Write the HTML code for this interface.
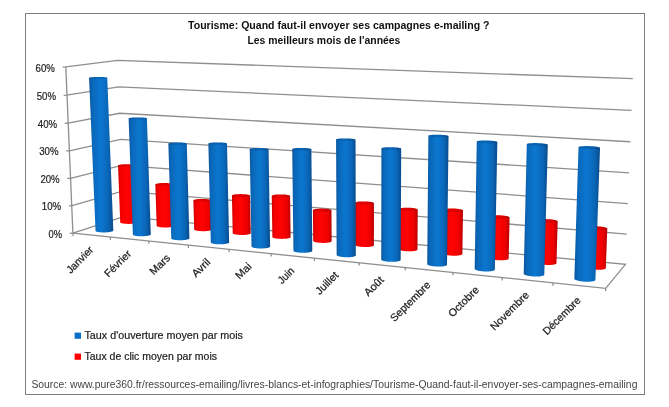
<!DOCTYPE html>
<html><head><meta charset="utf-8"><title>chart</title>
<style>
html,body{margin:0;padding:0;background:#fff;}
body{width:669px;height:407px;overflow:hidden;font-family:"Liberation Sans",sans-serif;}
svg{display:block;will-change:transform;opacity:0.999;}
text{font-family:"Liberation Sans",sans-serif;}
</style></head><body>
<svg width="669" height="407" viewBox="0 0 669 407">
<defs>
<linearGradient id="gb" x1="0" x2="1" y1="0" y2="0">
<stop offset="0" stop-color="#09569f"/><stop offset="0.14" stop-color="#0a68b9"/><stop offset="0.48" stop-color="#0b77d0"/><stop offset="0.78" stop-color="#0a67b8"/><stop offset="1" stop-color="#084a8c"/>
</linearGradient>
<linearGradient id="gr" x1="0" x2="1" y1="0" y2="0">
<stop offset="0" stop-color="#cc0000"/><stop offset="0.15" stop-color="#f50000"/><stop offset="0.45" stop-color="#ff0303"/><stop offset="0.8" stop-color="#ee0000"/><stop offset="1" stop-color="#b40000"/>
</linearGradient>
</defs>
<rect x="0" y="0" width="669" height="407" fill="#ffffff"/>
<rect x="25.5" y="13.5" width="619" height="381" fill="#ffffff" stroke="#7f7f7f" stroke-width="1"/>

<polyline points="62.60,67.05 65.80,66.90 117.62,60.33 632.82,78.71" fill="none" stroke="#8e8e8e" stroke-width="1.3"/>
<polyline points="63.70,95.35 66.90,95.20 118.63,86.89 631.56,110.38" fill="none" stroke="#8e8e8e" stroke-width="1.3"/>
<polyline points="64.80,123.25 68.00,123.10 119.63,113.24 630.32,141.75" fill="none" stroke="#8e8e8e" stroke-width="1.3"/>
<polyline points="66.20,150.95 69.40,150.80 120.62,139.39 629.09,172.83" fill="none" stroke="#8e8e8e" stroke-width="1.3"/>
<polyline points="67.40,178.45 70.60,178.30 121.60,165.33 627.87,203.61" fill="none" stroke="#8e8e8e" stroke-width="1.3"/>
<polyline points="68.80,205.85 72.00,205.70 122.58,191.06 626.67,234.11" fill="none" stroke="#8e8e8e" stroke-width="1.3"/>
<polyline points="69.70,233.35 72.90,233.20" fill="none" stroke="#8e8e8e" stroke-width="1.3"/>
<polygon points="72.90,233.20 123.55,216.59 625.47,264.32 605.66,288.29" fill="#ffffff" stroke="#8e8e8e" stroke-width="1.3"/>
<line x1="65.80" y1="66.90" x2="72.90" y2="233.20" stroke="#8e8e8e" stroke-width="1.3"/>
<line x1="73.10" y1="233.22" x2="73.10" y2="236.02" stroke="#8e8e8e" stroke-width="1.3"/>
<line x1="110.41" y1="237.08" x2="110.41" y2="239.88" stroke="#8e8e8e" stroke-width="1.3"/>
<line x1="148.82" y1="241.05" x2="148.82" y2="243.85" stroke="#8e8e8e" stroke-width="1.3"/>
<line x1="188.37" y1="245.14" x2="188.37" y2="247.94" stroke="#8e8e8e" stroke-width="1.3"/>
<line x1="229.12" y1="249.35" x2="229.12" y2="252.15" stroke="#8e8e8e" stroke-width="1.3"/>
<line x1="271.13" y1="253.70" x2="271.13" y2="256.50" stroke="#8e8e8e" stroke-width="1.3"/>
<line x1="314.44" y1="258.18" x2="314.44" y2="260.98" stroke="#8e8e8e" stroke-width="1.3"/>
<line x1="359.13" y1="262.80" x2="359.13" y2="265.60" stroke="#8e8e8e" stroke-width="1.3"/>
<line x1="405.26" y1="267.57" x2="405.26" y2="270.37" stroke="#8e8e8e" stroke-width="1.3"/>
<line x1="452.90" y1="272.49" x2="452.90" y2="275.29" stroke="#8e8e8e" stroke-width="1.3"/>
<line x1="502.12" y1="277.58" x2="502.12" y2="280.38" stroke="#8e8e8e" stroke-width="1.3"/>
<line x1="553.01" y1="282.85" x2="553.01" y2="285.65" stroke="#8e8e8e" stroke-width="1.3"/>
<line x1="605.66" y1="288.29" x2="605.66" y2="291.09" stroke="#8e8e8e" stroke-width="1.3"/>
<polygon points="118.04,165.54 118.07,165.43 118.17,165.32 118.34,165.21 118.57,165.10 118.86,165.00 119.22,164.90 119.63,164.80 120.10,164.71 120.62,164.62 121.18,164.54 121.79,164.47 122.44,164.40 123.11,164.35 123.82,164.30 124.55,164.26 125.30,164.23 126.06,164.21 126.83,164.20 127.59,164.20 128.35,164.21 129.10,164.23 129.84,164.25 130.55,164.29 131.23,164.34 131.88,164.39 132.50,164.45 133.07,164.52 133.59,164.60 134.07,164.69 134.49,164.78 134.85,164.87 135.16,164.97 135.40,165.08 135.57,165.18 135.69,165.29 135.73,165.41 137.76,222.15 137.74,222.29 137.65,222.44 137.50,222.58 137.28,222.72 136.99,222.85 136.65,222.99 136.25,223.11 135.79,223.23 135.28,223.34 134.72,223.45 134.11,223.54 133.47,223.63 132.79,223.70 132.09,223.76 131.35,223.81 130.60,223.85 129.84,223.88 129.07,223.89 128.30,223.90 127.54,223.89 126.79,223.86 126.05,223.83 125.34,223.78 124.65,223.72 124.00,223.65 123.39,223.57 122.82,223.47 122.30,223.37 121.83,223.26 121.41,223.15 121.06,223.02 120.76,222.89 120.53,222.76 120.36,222.62 120.26,222.48 120.23,222.34" fill="url(#gr)"/>
<polygon points="134.60,166.06 134.95,165.95 135.24,165.85 135.46,165.74 135.62,165.63 135.71,165.52 135.73,165.41 135.69,165.29 135.57,165.18 135.40,165.08 135.16,164.97 134.85,164.87 134.49,164.78 134.07,164.69 133.59,164.60 133.07,164.52 132.50,164.45 131.88,164.39 131.23,164.34 130.55,164.29 129.84,164.25 129.10,164.23 128.35,164.21 127.59,164.20 126.83,164.20 126.06,164.21 125.30,164.23 124.55,164.26 123.82,164.30 123.11,164.35 122.44,164.40 121.79,164.47 121.18,164.54 120.62,164.62 120.10,164.71 119.63,164.80 119.22,164.90 118.86,165.00 118.57,165.10 118.34,165.21 118.17,165.32 118.07,165.43 118.04,165.54 118.07,165.66 118.18,165.77 118.34,165.87 118.58,165.98 118.87,166.08 119.23,166.18 119.65,166.27 120.12,166.36 120.65,166.43 121.22,166.51 121.84,166.57 122.50,166.63 123.19,166.67 123.90,166.71 124.65,166.74 125.41,166.76 126.18,166.77 126.95,166.76 127.73,166.75 128.50,166.73 129.25,166.70 129.99,166.66 130.71,166.61 131.39,166.56 132.04,166.49 132.65,166.42 133.22,166.34 133.73,166.25 134.20,166.16" fill="rgba(90,0,0,0.16)"/>
<polygon points="155.33,184.49 155.34,184.37 155.42,184.25 155.57,184.12 155.78,184.00 156.06,183.89 156.40,183.77 156.80,183.67 157.25,183.57 157.76,183.47 158.31,183.38 158.91,183.30 159.55,183.23 160.23,183.17 160.93,183.11 161.66,183.07 162.41,183.04 163.17,183.01 163.94,183.00 164.71,183.00 165.48,183.01 166.24,183.03 166.98,183.06 167.70,183.10 168.40,183.15 169.06,183.21 169.69,183.28 170.28,183.36 170.82,183.44 171.32,183.54 171.76,183.64 172.14,183.74 172.47,183.85 172.73,183.97 172.92,184.09 173.06,184.21 173.12,184.33 174.37,225.69 174.36,225.84 174.30,225.98 174.16,226.13 173.96,226.27 173.69,226.41 173.36,226.55 172.97,226.68 172.52,226.80 172.02,226.92 171.47,227.02 170.87,227.12 170.24,227.21 169.56,227.28 168.86,227.35 168.12,227.40 167.37,227.44 166.61,227.47 165.83,227.48 165.06,227.49 164.28,227.48 163.52,227.45 162.77,227.42 162.05,227.37 161.35,227.31 160.68,227.23 160.05,227.15 159.46,227.06 158.92,226.95 158.43,226.84 158.00,226.72 157.62,226.59 157.31,226.46 157.05,226.32 156.87,226.18 156.74,226.03 156.69,225.89" fill="url(#gr)"/>
<polygon points="172.10,185.06 172.43,184.94 172.70,184.82 172.91,184.70 173.05,184.58 173.12,184.46 173.12,184.33 173.06,184.21 172.92,184.09 172.73,183.97 172.47,183.85 172.14,183.74 171.76,183.64 171.32,183.54 170.82,183.44 170.28,183.36 169.69,183.28 169.06,183.21 168.40,183.15 167.70,183.10 166.98,183.06 166.24,183.03 165.48,183.01 164.71,183.00 163.94,183.00 163.17,183.01 162.41,183.04 161.66,183.07 160.93,183.11 160.23,183.17 159.55,183.23 158.91,183.30 158.31,183.38 157.76,183.47 157.25,183.57 156.80,183.67 156.40,183.77 156.06,183.89 155.78,184.00 155.57,184.12 155.42,184.25 155.34,184.37 155.33,184.49 155.38,184.62 155.50,184.74 155.69,184.86 155.95,184.98 156.26,185.09 156.64,185.20 157.08,185.30 157.57,185.39 158.11,185.48 158.70,185.56 159.34,185.63 160.01,185.69 160.71,185.74 161.44,185.78 162.19,185.82 162.96,185.84 163.74,185.84 164.52,185.84 165.30,185.83 166.07,185.81 166.83,185.77 167.57,185.73 168.28,185.67 168.96,185.61 169.60,185.54 170.20,185.45 170.75,185.36 171.26,185.27 171.71,185.16" fill="rgba(90,0,0,0.16)"/>
<polygon points="193.39,200.39 193.45,200.26 193.58,200.13 193.77,199.99 194.03,199.87 194.36,199.75 194.74,199.63 195.18,199.52 195.67,199.41 196.22,199.32 196.81,199.23 197.44,199.15 198.11,199.08 198.81,199.03 199.54,198.98 200.29,198.94 201.05,198.92 201.82,198.90 202.60,198.90 203.37,198.91 204.14,198.93 204.90,198.96 205.63,199.01 206.34,199.06 207.02,199.13 207.67,199.20 208.27,199.28 208.84,199.38 209.35,199.48 209.81,199.59 210.21,199.70 210.56,199.82 210.84,199.95 211.06,200.08 211.21,200.21 211.30,200.34 211.31,200.48 212.02,229.48 211.97,229.63 211.85,229.78 211.67,229.93 211.42,230.07 211.10,230.21 210.73,230.34 210.29,230.47 209.80,230.59 209.26,230.70 208.67,230.80 208.04,230.89 207.37,230.97 206.67,231.03 205.94,231.09 205.18,231.13 204.41,231.16 203.63,231.18 202.85,231.18 202.07,231.17 201.29,231.14 200.53,231.11 199.79,231.06 199.08,230.99 198.40,230.92 197.75,230.83 197.14,230.74 196.58,230.63 196.07,230.52 195.62,230.39 195.22,230.26 194.88,230.13 194.61,229.98 194.40,229.84 194.26,229.69 194.18,229.54 194.17,229.39" fill="url(#gr)"/>
<polygon points="210.39,201.13 210.71,201.01 210.96,200.88 211.14,200.75 211.26,200.61 211.31,200.48 211.30,200.34 211.21,200.21 211.06,200.08 210.84,199.95 210.56,199.82 210.21,199.70 209.81,199.59 209.35,199.48 208.84,199.38 208.27,199.28 207.67,199.20 207.02,199.13 206.34,199.06 205.63,199.01 204.90,198.96 204.14,198.93 203.37,198.91 202.60,198.90 201.82,198.90 201.05,198.92 200.29,198.94 199.54,198.98 198.81,199.03 198.11,199.08 197.44,199.15 196.81,199.23 196.22,199.32 195.67,199.41 195.18,199.52 194.74,199.63 194.36,199.75 194.03,199.87 193.77,199.99 193.58,200.13 193.45,200.26 193.39,200.39 193.39,200.53 193.47,200.66 193.61,200.79 193.82,200.93 194.10,201.05 194.44,201.17 194.84,201.29 195.29,201.40 195.80,201.50 196.37,201.60 196.97,201.68 197.62,201.76 198.31,201.83 199.03,201.88 199.77,201.93 200.53,201.96 201.31,201.98 202.10,201.99 202.88,201.99 203.67,201.98 204.44,201.95 205.20,201.91 205.93,201.86 206.64,201.80 207.31,201.73 207.95,201.65 208.54,201.56 209.08,201.47 209.58,201.36 210.01,201.25" fill="rgba(90,0,0,0.16)"/>
<polygon points="231.92,195.59 231.96,195.45 232.07,195.32 232.25,195.19 232.49,195.06 232.80,194.94 233.17,194.83 233.59,194.72 234.08,194.61 234.61,194.52 235.20,194.43 235.82,194.35 236.49,194.28 237.19,194.23 237.92,194.18 238.67,194.14 239.43,194.12 240.21,194.10 241.00,194.10 241.78,194.11 242.56,194.13 243.33,194.16 244.08,194.20 244.81,194.26 245.51,194.32 246.17,194.40 246.80,194.48 247.38,194.57 247.91,194.67 248.40,194.78 248.82,194.89 249.19,195.01 249.50,195.14 249.74,195.27 249.91,195.40 250.02,195.53 250.06,195.67 250.75,233.23 250.72,233.38 250.62,233.54 250.46,233.69 250.23,233.84 249.93,233.98 249.57,234.12 249.15,234.25 248.67,234.37 248.14,234.48 247.56,234.58 246.93,234.68 246.26,234.76 245.56,234.83 244.83,234.88 244.08,234.93 243.30,234.96 242.52,234.97 241.73,234.98 240.94,234.97 240.15,234.94 239.38,234.90 238.62,234.85 237.89,234.79 237.19,234.71 236.53,234.62 235.90,234.53 235.32,234.42 234.79,234.30 234.32,234.17 233.90,234.04 233.54,233.90 233.24,233.75 233.01,233.60 232.84,233.45 232.75,233.29 232.72,233.14" fill="url(#gr)"/>
<polygon points="249.23,196.31 249.53,196.19 249.76,196.06 249.93,195.93 250.03,195.80 250.06,195.67 250.02,195.53 249.91,195.40 249.74,195.27 249.50,195.14 249.19,195.01 248.82,194.89 248.40,194.78 247.91,194.67 247.38,194.57 246.80,194.48 246.17,194.40 245.51,194.32 244.81,194.26 244.08,194.20 243.33,194.16 242.56,194.13 241.78,194.11 241.00,194.10 240.21,194.10 239.43,194.12 238.67,194.14 237.92,194.18 237.19,194.23 236.49,194.28 235.82,194.35 235.20,194.43 234.61,194.52 234.08,194.61 233.59,194.72 233.17,194.83 232.80,194.94 232.49,195.06 232.25,195.19 232.07,195.32 231.96,195.45 231.92,195.59 231.95,195.72 232.05,195.85 232.21,195.99 232.44,196.11 232.74,196.24 233.10,196.36 233.53,196.48 234.01,196.59 234.54,196.69 235.12,196.78 235.75,196.87 236.42,196.94 237.12,197.01 237.86,197.06 238.62,197.11 239.39,197.14 240.18,197.16 240.98,197.17 241.78,197.17 242.57,197.16 243.34,197.13 244.10,197.09 244.84,197.04 245.54,196.98 246.21,196.91 246.84,196.83 247.43,196.74 247.96,196.65 248.44,196.54 248.87,196.43" fill="rgba(90,0,0,0.16)"/>
<polygon points="271.76,195.91 271.78,195.78 271.86,195.64 272.02,195.51 272.25,195.38 272.54,195.26 272.89,195.14 273.30,195.03 273.77,194.92 274.30,194.83 274.87,194.74 275.49,194.66 276.16,194.59 276.85,194.53 277.58,194.48 278.33,194.44 279.10,194.42 279.89,194.40 280.68,194.40 281.47,194.41 282.27,194.43 283.05,194.46 283.81,194.51 284.55,194.56 285.27,194.62 285.96,194.70 286.60,194.78 287.21,194.88 287.76,194.98 288.27,195.09 288.72,195.20 289.11,195.33 289.44,195.45 289.71,195.58 289.91,195.71 290.04,195.85 290.10,195.99 290.60,237.08 290.60,237.24 290.52,237.40 290.37,237.56 290.16,237.71 289.88,237.85 289.53,238.00 289.13,238.13 288.66,238.26 288.14,238.37 287.57,238.48 286.95,238.57 286.29,238.66 285.59,238.73 284.86,238.79 284.11,238.83 283.33,238.86 282.54,238.88 281.74,238.89 280.94,238.87 280.14,238.85 279.36,238.81 278.59,238.76 277.84,238.69 277.12,238.62 276.44,238.53 275.79,238.42 275.19,238.31 274.64,238.19 274.14,238.06 273.70,237.92 273.31,237.78 272.99,237.63 272.74,237.48 272.55,237.32 272.43,237.16 272.38,237.00" fill="url(#gr)"/>
<polygon points="289.37,196.64 289.65,196.52 289.87,196.39 290.01,196.26 290.09,196.12 290.10,195.99 290.04,195.85 289.91,195.71 289.71,195.58 289.44,195.45 289.11,195.33 288.72,195.20 288.27,195.09 287.76,194.98 287.21,194.88 286.60,194.78 285.96,194.70 285.27,194.62 284.55,194.56 283.81,194.51 283.05,194.46 282.27,194.43 281.47,194.41 280.68,194.40 279.89,194.40 279.10,194.42 278.33,194.44 277.58,194.48 276.85,194.53 276.16,194.59 275.49,194.66 274.87,194.74 274.30,194.83 273.77,194.92 273.30,195.03 272.89,195.14 272.54,195.26 272.25,195.38 272.02,195.51 271.86,195.64 271.78,195.78 271.76,195.91 271.81,196.05 271.93,196.18 272.12,196.32 272.37,196.45 272.70,196.58 273.08,196.70 273.53,196.82 274.03,196.93 274.59,197.03 275.19,197.13 275.84,197.21 276.53,197.29 277.25,197.36 278.00,197.41 278.78,197.46 279.57,197.49 280.37,197.51 281.18,197.52 281.98,197.52 282.78,197.50 283.56,197.48 284.32,197.44 285.05,197.39 285.76,197.33 286.42,197.26 287.04,197.17 287.62,197.08 288.14,196.98 288.61,196.88 289.02,196.76" fill="rgba(90,0,0,0.16)"/>
<polygon points="312.93,210.09 312.99,209.94 313.13,209.80 313.33,209.66 313.60,209.53 313.94,209.40 314.34,209.28 314.80,209.17 315.31,209.06 315.87,208.97 316.48,208.88 317.14,208.80 317.83,208.74 318.56,208.69 319.31,208.65 320.08,208.62 320.87,208.60 321.67,208.60 322.47,208.61 323.27,208.63 324.07,208.67 324.84,208.71 325.60,208.77 326.34,208.84 327.04,208.92 327.71,209.01 328.33,209.11 328.91,209.22 329.44,209.34 329.91,209.46 330.33,209.59 330.68,209.73 330.98,209.87 331.20,210.01 331.36,210.16 331.44,210.30 331.46,210.45 331.64,241.21 331.59,241.38 331.46,241.54 331.27,241.69 331.01,241.85 330.68,241.99 330.29,242.13 329.84,242.26 329.33,242.38 328.77,242.49 328.16,242.59 327.50,242.67 326.80,242.75 326.08,242.81 325.32,242.85 324.54,242.89 323.74,242.91 322.94,242.91 322.13,242.90 321.32,242.87 320.52,242.83 319.73,242.78 318.97,242.71 318.23,242.63 317.53,242.54 316.86,242.44 316.24,242.32 315.66,242.20 315.14,242.07 314.67,241.92 314.26,241.78 313.92,241.62 313.64,241.46 313.42,241.30 313.28,241.14 313.20,240.97 313.20,240.81" fill="url(#gr)"/>
<polygon points="330.82,211.01 331.08,210.88 331.28,210.74 331.40,210.59 331.46,210.45 331.44,210.30 331.36,210.16 331.20,210.01 330.98,209.87 330.68,209.73 330.33,209.59 329.91,209.46 329.44,209.34 328.91,209.22 328.33,209.11 327.71,209.01 327.04,208.92 326.34,208.84 325.60,208.77 324.84,208.71 324.07,208.67 323.27,208.63 322.47,208.61 321.67,208.60 320.87,208.60 320.08,208.62 319.31,208.65 318.56,208.69 317.83,208.74 317.14,208.80 316.48,208.88 315.87,208.97 315.31,209.06 314.80,209.17 314.34,209.28 313.94,209.40 313.60,209.53 313.33,209.66 313.13,209.80 312.99,209.94 312.93,210.09 312.93,210.23 313.01,210.38 313.15,210.52 313.37,210.67 313.65,210.81 314.00,210.95 314.41,211.08 314.88,211.20 315.40,211.32 315.98,211.43 316.61,211.54 317.28,211.63 317.99,211.71 318.73,211.78 319.49,211.84 320.28,211.89 321.08,211.93 321.90,211.95 322.71,211.96 323.52,211.95 324.32,211.94 325.10,211.91 325.87,211.87 326.60,211.81 327.30,211.75 327.95,211.67 328.57,211.58 329.13,211.49 329.64,211.38 330.10,211.26 330.49,211.14" fill="rgba(90,0,0,0.16)"/>
<polygon points="355.12,202.87 355.16,202.72 355.28,202.58 355.46,202.45 355.71,202.32 356.03,202.19 356.41,202.07 356.86,201.96 357.36,201.86 357.91,201.76 358.52,201.68 359.17,201.60 359.86,201.54 360.58,201.49 361.33,201.45 362.11,201.42 362.91,201.40 363.72,201.40 364.53,201.41 365.34,201.43 366.15,201.46 366.95,201.51 367.73,201.57 368.48,201.63 369.20,201.71 369.89,201.80 370.54,201.90 371.15,202.01 371.70,202.12 372.20,202.25 372.65,202.37 373.03,202.51 373.35,202.65 373.60,202.79 373.78,202.93 373.89,203.07 373.93,203.22 373.91,245.31 373.88,245.47 373.78,245.64 373.60,245.80 373.36,245.96 373.05,246.11 372.68,246.25 372.24,246.38 371.75,246.50 371.20,246.62 370.59,246.72 369.94,246.81 369.25,246.89 368.53,246.95 367.77,247.00 366.99,247.03 366.18,247.05 365.37,247.05 364.55,247.04 363.73,247.02 362.92,246.98 362.12,246.92 361.33,246.86 360.58,246.77 359.85,246.68 359.16,246.57 358.51,246.45 357.91,246.33 357.37,246.19 356.87,246.04 356.44,245.89 356.07,245.73 355.76,245.57 355.52,245.40 355.35,245.24 355.25,245.07 355.22,244.90" fill="url(#gr)"/>
<polygon points="373.38,203.77 373.63,203.64 373.80,203.50 373.90,203.36 373.93,203.22 373.89,203.07 373.78,202.93 373.60,202.79 373.35,202.65 373.03,202.51 372.65,202.37 372.20,202.25 371.70,202.12 371.15,202.01 370.54,201.90 369.89,201.80 369.20,201.71 368.48,201.63 367.73,201.57 366.95,201.51 366.15,201.46 365.34,201.43 364.53,201.41 363.72,201.40 362.91,201.40 362.11,201.42 361.33,201.45 360.58,201.49 359.86,201.54 359.17,201.60 358.52,201.68 357.91,201.76 357.36,201.86 356.86,201.96 356.41,202.07 356.03,202.19 355.71,202.32 355.46,202.45 355.28,202.58 355.16,202.72 355.12,202.87 355.15,203.01 355.25,203.15 355.42,203.30 355.66,203.44 355.97,203.58 356.35,203.71 356.79,203.84 357.28,203.97 357.83,204.09 358.44,204.19 359.09,204.29 359.78,204.39 360.51,204.47 361.28,204.54 362.06,204.60 362.87,204.64 363.69,204.68 364.51,204.70 365.34,204.71 366.16,204.70 366.96,204.69 367.75,204.66 368.52,204.62 369.25,204.56 369.94,204.50 370.60,204.42 371.20,204.34 371.76,204.24 372.26,204.13 372.70,204.02 373.07,203.90" fill="rgba(90,0,0,0.16)"/>
<polygon points="398.51,249.11 398.69,209.23 398.71,209.08 398.79,208.94 398.96,208.79 399.19,208.66 399.48,208.53 399.85,208.40 400.28,208.29 400.76,208.18 401.31,208.08 401.90,207.99 402.54,207.91 403.23,207.85 403.95,207.79 404.71,207.75 405.49,207.72 406.29,207.70 407.10,207.70 407.93,207.71 408.75,207.73 409.57,207.77 410.39,207.81 411.18,207.87 411.95,207.94 412.70,208.02 413.41,208.12 414.09,208.22 414.72,208.33 415.30,208.45 415.83,208.58 416.30,208.71 416.71,208.85 417.05,208.99 417.33,209.14 417.54,209.29 417.68,209.44 417.75,209.59 417.46,249.52 417.45,249.69 417.37,249.86 417.22,250.03 417.00,250.19 416.72,250.34 416.36,250.49 415.94,250.63 415.46,250.76 414.92,250.87 414.32,250.98 413.68,251.07 412.99,251.15 412.27,251.22 411.51,251.27 410.72,251.30 409.92,251.32 409.10,251.33 408.27,251.32 407.43,251.29 406.61,251.25 405.79,251.19 404.99,251.12 404.21,251.04 403.46,250.94 402.75,250.83 402.08,250.71 401.45,250.58 400.88,250.44 400.36,250.29 399.89,250.13 399.49,249.97 399.16,249.80 398.89,249.63 398.69,249.46 398.57,249.28" fill="url(#gr)"/>
<polygon points="417.29,210.17 417.52,210.03 417.67,209.88 417.74,209.74 417.75,209.59 417.68,209.44 417.54,209.29 417.33,209.14 417.05,208.99 416.71,208.85 416.30,208.71 415.83,208.58 415.30,208.45 414.72,208.33 414.09,208.22 413.41,208.12 412.70,208.02 411.95,207.94 411.18,207.87 410.39,207.81 409.57,207.77 408.75,207.73 407.93,207.71 407.10,207.70 406.29,207.70 405.49,207.72 404.71,207.75 403.95,207.79 403.23,207.85 402.54,207.91 401.90,207.99 401.31,208.08 400.76,208.18 400.28,208.29 399.85,208.40 399.48,208.53 399.19,208.66 398.96,208.79 398.79,208.94 398.71,209.08 398.69,209.23 398.74,209.38 398.87,209.53 399.07,209.68 399.34,209.83 399.68,209.97 400.08,210.11 400.54,210.25 401.07,210.38 401.65,210.50 402.28,210.61 402.95,210.72 403.67,210.81 404.42,210.90 405.20,210.97 406.01,211.03 406.83,211.08 407.67,211.11 408.50,211.14 409.34,211.14 410.17,211.14 410.98,211.12 411.77,211.09 412.53,211.05 413.26,210.99 413.95,210.93 414.60,210.85 415.19,210.76 415.74,210.66 416.22,210.54 416.65,210.43 417.00,210.30" fill="rgba(90,0,0,0.16)"/>
<polygon points="443.13,253.27 443.62,209.91 443.68,209.76 443.82,209.62 444.03,209.48 444.31,209.35 444.65,209.22 445.06,209.10 445.54,208.99 446.07,208.89 446.65,208.80 447.29,208.72 447.97,208.65 448.69,208.60 449.44,208.55 450.23,208.52 451.03,208.50 451.85,208.50 452.69,208.51 453.53,208.53 454.36,208.57 455.19,208.61 456.01,208.67 456.80,208.74 457.57,208.83 458.31,208.92 459.01,209.03 459.67,209.14 460.28,209.26 460.83,209.39 461.33,209.53 461.77,209.67 462.15,209.81 462.46,209.96 462.70,210.11 462.87,210.27 462.96,210.42 462.99,210.57 462.36,254.04 462.31,254.22 462.19,254.39 461.99,254.56 461.72,254.71 461.39,254.87 460.98,255.01 460.51,255.14 459.99,255.26 459.40,255.37 458.77,255.47 458.09,255.55 457.37,255.61 456.61,255.67 455.82,255.70 455.01,255.72 454.18,255.73 453.34,255.72 452.49,255.69 451.65,255.65 450.81,255.59 449.99,255.52 449.19,255.44 448.42,255.34 447.69,255.22 446.99,255.10 446.34,254.96 445.73,254.82 445.18,254.67 444.69,254.50 444.26,254.34 443.90,254.16 443.60,253.99 443.38,253.81 443.22,253.63 443.14,253.45" fill="url(#gr)"/>
<polygon points="462.61,211.01 462.81,210.87 462.93,210.72 462.99,210.57 462.96,210.42 462.87,210.27 462.70,210.11 462.46,209.96 462.15,209.81 461.77,209.67 461.33,209.53 460.83,209.39 460.28,209.26 459.67,209.14 459.01,209.03 458.31,208.92 457.57,208.83 456.80,208.74 456.01,208.67 455.19,208.61 454.36,208.57 453.53,208.53 452.69,208.51 451.85,208.50 451.03,208.50 450.23,208.52 449.44,208.55 448.69,208.60 447.97,208.65 447.29,208.72 446.65,208.80 446.07,208.89 445.54,208.99 445.06,209.10 444.65,209.22 444.31,209.35 444.03,209.48 443.82,209.62 443.68,209.76 443.62,209.91 443.63,210.06 443.71,210.22 443.87,210.37 444.10,210.52 444.40,210.67 444.76,210.82 445.20,210.96 445.69,211.10 446.24,211.23 446.85,211.35 447.51,211.47 448.21,211.58 448.95,211.67 449.73,211.76 450.53,211.83 451.36,211.89 452.20,211.94 453.05,211.98 453.90,212.00 454.75,212.01 455.58,212.00 456.40,211.99 457.19,211.95 457.96,211.91 458.68,211.85 459.37,211.78 460.01,211.70 460.59,211.61 461.12,211.51 461.59,211.39 462.00,211.27 462.34,211.14" fill="rgba(90,0,0,0.16)"/>
<polygon points="489.12,257.74 489.88,216.78 489.91,216.62 490.02,216.47 490.21,216.32 490.46,216.19 490.79,216.05 491.18,215.93 491.64,215.81 492.16,215.71 492.73,215.61 493.36,215.53 494.03,215.46 494.75,215.40 495.50,215.36 496.29,215.32 497.10,215.30 497.93,215.30 498.77,215.31 499.62,215.33 500.48,215.37 501.32,215.42 502.16,215.48 502.97,215.55 503.77,215.64 504.53,215.74 505.26,215.85 505.94,215.96 506.58,216.09 507.17,216.22 507.70,216.37 508.17,216.51 508.58,216.67 508.92,216.82 509.19,216.98 509.39,217.14 509.51,217.30 509.56,217.46 508.68,258.53 508.66,258.71 508.56,258.89 508.38,259.06 508.14,259.22 507.82,259.38 507.44,259.52 506.99,259.66 506.47,259.79 505.90,259.90 505.27,260.00 504.60,260.08 503.88,260.15 503.12,260.21 502.33,260.24 501.51,260.27 500.67,260.27 499.82,260.26 498.96,260.24 498.11,260.19 497.25,260.13 496.41,260.06 495.59,259.97 494.80,259.87 494.04,259.75 493.31,259.63 492.63,259.49 492.00,259.34 491.42,259.18 490.89,259.01 490.43,258.84 490.04,258.66 489.71,258.48 489.45,258.30 489.27,258.11 489.16,257.93" fill="url(#gr)"/>
<polygon points="509.27,217.91 509.44,217.77 509.54,217.61 509.56,217.46 509.51,217.30 509.39,217.14 509.19,216.98 508.92,216.82 508.58,216.67 508.17,216.51 507.70,216.37 507.17,216.22 506.58,216.09 505.94,215.96 505.26,215.85 504.53,215.74 503.77,215.64 502.97,215.55 502.16,215.48 501.32,215.42 500.48,215.37 499.62,215.33 498.77,215.31 497.93,215.30 497.10,215.30 496.29,215.32 495.50,215.36 494.75,215.40 494.03,215.46 493.36,215.53 492.73,215.61 492.16,215.71 491.64,215.81 491.18,215.93 490.79,216.05 490.46,216.19 490.21,216.32 490.02,216.47 489.91,216.62 489.88,216.78 489.91,216.93 490.03,217.09 490.21,217.25 490.47,217.41 490.80,217.57 491.20,217.72 491.66,217.87 492.19,218.02 492.77,218.15 493.41,218.28 494.10,218.40 494.83,218.51 495.60,218.61 496.40,218.70 497.22,218.78 498.07,218.84 498.92,218.89 499.79,218.93 500.65,218.95 501.51,218.96 502.35,218.96 503.18,218.94 503.97,218.90 504.73,218.86 505.46,218.80 506.14,218.72 506.77,218.64 507.34,218.54 507.86,218.43 508.31,218.32 508.70,218.19 509.02,218.06" fill="rgba(90,0,0,0.16)"/>
<polygon points="536.57,262.36 537.65,220.63 537.65,220.47 537.74,220.31 537.90,220.16 538.13,220.02 538.43,219.88 538.80,219.75 539.24,219.63 539.75,219.52 540.31,219.43 540.93,219.34 541.60,219.27 542.31,219.21 543.06,219.16 543.85,219.12 544.67,219.11 545.51,219.10 546.36,219.11 547.23,219.13 548.09,219.17 548.96,219.22 549.81,219.28 550.65,219.36 551.47,219.45 552.26,219.55 553.01,219.66 553.73,219.78 554.40,219.91 555.02,220.05 555.58,220.20 556.09,220.35 556.53,220.50 556.90,220.66 557.20,220.83 557.44,220.99 557.59,221.16 557.68,221.32 557.68,221.48 556.47,263.34 556.40,263.53 556.25,263.70 556.03,263.87 555.74,264.03 555.37,264.18 554.94,264.33 554.44,264.45 553.88,264.57 553.26,264.67 552.59,264.76 551.88,264.83 551.12,264.89 550.33,264.93 549.50,264.95 548.66,264.96 547.79,264.95 546.92,264.92 546.05,264.88 545.18,264.82 544.32,264.74 543.47,264.65 542.65,264.55 541.86,264.43 541.11,264.30 540.40,264.15 539.73,264.00 539.12,263.84 538.57,263.66 538.08,263.49 537.65,263.30 537.29,263.12 537.00,262.93 536.78,262.74 536.64,262.55" fill="url(#gr)"/>
<polygon points="557.46,221.79 557.61,221.64 557.68,221.48 557.68,221.32 557.59,221.16 557.44,220.99 557.20,220.83 556.90,220.66 556.53,220.50 556.09,220.35 555.58,220.20 555.02,220.05 554.40,219.91 553.73,219.78 553.01,219.66 552.26,219.55 551.47,219.45 550.65,219.36 549.81,219.28 548.96,219.22 548.09,219.17 547.23,219.13 546.36,219.11 545.51,219.10 544.67,219.11 543.85,219.12 543.06,219.16 542.31,219.21 541.60,219.27 540.93,219.34 540.31,219.43 539.75,219.52 539.24,219.63 538.80,219.75 538.43,219.88 538.13,220.02 537.90,220.16 537.74,220.31 537.65,220.47 537.65,220.63 537.71,220.79 537.86,220.95 538.08,221.12 538.37,221.28 538.73,221.44 539.17,221.60 539.66,221.75 540.22,221.90 540.84,222.04 541.51,222.18 542.22,222.30 542.98,222.41 543.78,222.52 544.60,222.61 545.45,222.69 546.32,222.75 547.20,222.80 548.08,222.84 548.95,222.86 549.82,222.87 550.67,222.87 551.50,222.85 552.30,222.81 553.06,222.76 553.78,222.70 554.45,222.63 555.08,222.54 555.64,222.44 556.14,222.33 556.58,222.21 556.94,222.08 557.24,221.94" fill="rgba(90,0,0,0.16)"/>
<polygon points="585.53,266.93 586.84,227.63 586.89,227.47 587.02,227.31 587.23,227.16 587.51,227.02 587.86,226.88 588.29,226.76 588.77,226.64 589.32,226.54 589.93,226.45 590.59,226.38 591.30,226.31 592.05,226.26 592.84,226.23 593.66,226.21 594.51,226.20 595.37,226.21 596.25,226.23 597.13,226.27 598.02,226.32 598.90,226.39 599.76,226.47 600.60,226.56 601.42,226.66 602.20,226.78 602.95,226.91 603.65,227.04 604.30,227.19 604.90,227.34 605.44,227.50 605.92,227.66 606.32,227.83 606.66,228.00 606.93,228.17 607.12,228.34 607.23,228.51 607.27,228.68 605.83,268.13 605.79,268.31 605.67,268.50 605.47,268.67 605.20,268.84 604.86,269.00 604.44,269.14 603.96,269.27 603.41,269.40 602.80,269.50 602.14,269.59 601.43,269.67 600.67,269.73 599.88,269.77 599.05,269.79 598.20,269.80 597.32,269.79 596.44,269.76 595.55,269.72 594.66,269.66 593.77,269.58 592.91,269.48 592.06,269.38 591.24,269.25 590.46,269.12 589.72,268.97 589.02,268.81 588.37,268.64 587.78,268.47 587.26,268.28 586.79,268.10 586.40,267.90 586.07,267.71 585.82,267.51 585.65,267.31 585.55,267.12" fill="url(#gr)"/>
<polygon points="607.11,229.00 607.23,228.84 607.27,228.68 607.23,228.51 607.12,228.34 606.93,228.17 606.66,228.00 606.32,227.83 605.92,227.66 605.44,227.50 604.90,227.34 604.30,227.19 603.65,227.04 602.95,226.91 602.20,226.78 601.42,226.66 600.60,226.56 599.76,226.47 598.90,226.39 598.02,226.32 597.13,226.27 596.25,226.23 595.37,226.21 594.51,226.20 593.66,226.21 592.84,226.23 592.05,226.26 591.30,226.31 590.59,226.38 589.93,226.45 589.32,226.54 588.77,226.64 588.29,226.76 587.86,226.88 587.51,227.02 587.23,227.16 587.02,227.31 586.89,227.47 586.84,227.63 586.86,227.80 586.96,227.97 587.14,228.14 587.39,228.31 587.72,228.48 588.12,228.65 588.59,228.81 589.12,228.97 589.71,229.13 590.36,229.28 591.06,229.41 591.81,229.54 592.60,229.66 593.42,229.77 594.27,229.86 595.15,229.94 596.04,230.01 596.93,230.07 597.83,230.11 598.72,230.13 599.60,230.14 600.46,230.13 601.29,230.11 602.09,230.07 602.85,230.02 603.57,229.96 604.23,229.88 604.84,229.79 605.39,229.68 605.88,229.57 606.30,229.44 606.64,229.30 606.91,229.16" fill="rgba(90,0,0,0.16)"/>
<polygon points="89.06,77.77 89.12,77.71 89.25,77.65 89.45,77.58 89.72,77.52 90.04,77.46 90.43,77.40 90.88,77.35 91.38,77.29 91.93,77.24 92.53,77.20 93.17,77.16 93.85,77.12 94.56,77.09 95.30,77.06 96.06,77.04 96.83,77.02 97.62,77.01 98.40,77.00 99.19,77.00 99.97,77.00 100.73,77.01 101.48,77.03 102.20,77.05 102.89,77.08 103.55,77.11 104.16,77.14 104.73,77.18 105.25,77.23 105.72,77.28 106.13,77.33 106.48,77.38 106.77,77.44 106.99,77.50 107.14,77.56 107.23,77.62 107.25,77.69 113.31,230.57 113.26,230.72 113.15,230.87 112.97,231.02 112.72,231.17 112.41,231.32 112.04,231.46 111.62,231.59 111.13,231.72 110.60,231.84 110.01,231.95 109.39,232.05 108.72,232.14 108.02,232.22 107.30,232.29 106.55,232.35 105.79,232.39 105.01,232.42 104.23,232.44 103.45,232.44 102.68,232.43 101.92,232.41 101.19,232.37 100.47,232.33 99.79,232.26 99.14,232.19 98.54,232.10 97.98,232.01 97.47,231.90 97.01,231.79 96.61,231.66 96.27,231.53 95.99,231.40 95.78,231.25 95.63,231.11 95.55,230.96 95.54,230.81" fill="url(#gb)"/>
<polygon points="105.94,78.06 106.32,78.00 106.64,77.94 106.89,77.88 107.08,77.82 107.20,77.75 107.25,77.69 107.23,77.62 107.14,77.56 106.99,77.50 106.77,77.44 106.48,77.38 106.13,77.33 105.72,77.28 105.25,77.23 104.73,77.18 104.16,77.14 103.55,77.11 102.89,77.08 102.20,77.05 101.48,77.03 100.73,77.01 99.97,77.00 99.19,77.00 98.40,77.00 97.62,77.01 96.83,77.02 96.06,77.04 95.30,77.06 94.56,77.09 93.85,77.12 93.17,77.16 92.53,77.20 91.93,77.24 91.38,77.29 90.88,77.35 90.43,77.40 90.04,77.46 89.72,77.52 89.45,77.58 89.25,77.65 89.12,77.71 89.06,77.77 89.07,77.84 89.15,77.90 89.29,77.96 89.51,78.02 89.79,78.08 90.13,78.14 90.54,78.19 91.00,78.24 91.52,78.28 92.10,78.33 92.71,78.36 93.37,78.39 94.07,78.42 94.80,78.44 95.55,78.46 96.33,78.47 97.12,78.47 97.92,78.47 98.71,78.46 99.51,78.45 100.29,78.43 101.06,78.41 101.81,78.38 102.52,78.35 103.20,78.31 103.85,78.27 104.45,78.22 105.00,78.17 105.50,78.12" fill="rgba(0,20,60,0.16)"/>
<polygon points="128.61,118.48 128.65,118.39 128.76,118.30 128.93,118.22 129.18,118.13 129.48,118.04 129.85,117.96 130.28,117.89 130.77,117.81 131.31,117.74 131.89,117.68 132.52,117.62 133.19,117.57 133.90,117.52 134.63,117.48 135.39,117.45 136.16,117.43 136.94,117.41 137.73,117.40 138.52,117.40 139.31,117.41 140.08,117.42 140.84,117.44 141.57,117.47 142.27,117.50 142.94,117.55 143.58,117.60 144.16,117.65 144.70,117.71 145.19,117.78 145.62,117.85 145.99,117.93 146.30,118.01 146.55,118.09 146.73,118.18 146.84,118.26 146.88,118.35 150.80,234.35 150.78,234.51 150.69,234.66 150.53,234.82 150.30,234.97 150.01,235.12 149.65,235.26 149.24,235.40 148.77,235.53 148.24,235.66 147.67,235.77 147.05,235.88 146.39,235.97 145.69,236.05 144.97,236.12 144.22,236.18 143.45,236.23 142.67,236.26 141.88,236.28 141.09,236.28 140.31,236.27 139.54,236.25 138.79,236.21 138.06,236.16 137.36,236.10 136.70,236.02 136.07,235.93 135.49,235.83 134.96,235.72 134.48,235.61 134.06,235.48 133.70,235.34 133.40,235.20 133.16,235.06 132.99,234.91 132.89,234.75 132.86,234.60" fill="url(#gb)"/>
<polygon points="145.69,118.87 146.06,118.79 146.36,118.71 146.59,118.62 146.75,118.53 146.85,118.44 146.88,118.35 146.84,118.26 146.73,118.18 146.55,118.09 146.30,118.01 145.99,117.93 145.62,117.85 145.19,117.78 144.70,117.71 144.16,117.65 143.58,117.60 142.94,117.55 142.27,117.50 141.57,117.47 140.84,117.44 140.08,117.42 139.31,117.41 138.52,117.40 137.73,117.40 136.94,117.41 136.16,117.43 135.39,117.45 134.63,117.48 133.90,117.52 133.19,117.57 132.52,117.62 131.89,117.68 131.31,117.74 130.77,117.81 130.28,117.89 129.85,117.96 129.48,118.04 129.18,118.13 128.93,118.22 128.76,118.30 128.65,118.39 128.61,118.48 128.64,118.57 128.74,118.66 128.91,118.74 129.15,118.83 129.45,118.91 129.82,118.99 130.24,119.06 130.73,119.13 131.27,119.19 131.86,119.25 132.49,119.30 133.17,119.34 133.88,119.38 134.62,119.41 135.39,119.43 136.17,119.44 136.96,119.45 137.77,119.45 138.57,119.44 139.36,119.42 140.15,119.39 140.91,119.36 141.65,119.32 142.36,119.27 143.03,119.22 143.66,119.16 144.25,119.10 144.79,119.03 145.27,118.95" fill="rgba(0,20,60,0.16)"/>
<polygon points="168.36,143.78 168.38,143.68 168.46,143.57 168.62,143.47 168.84,143.37 169.13,143.27 169.48,143.17 169.89,143.08 170.36,142.99 170.89,142.91 171.46,142.83 172.08,142.76 172.75,142.70 173.44,142.65 174.17,142.60 174.92,142.56 175.70,142.53 176.49,142.51 177.28,142.50 178.08,142.50 178.87,142.51 179.65,142.52 180.42,142.55 181.17,142.58 181.89,142.62 182.58,142.67 183.22,142.73 183.83,142.80 184.39,142.87 184.90,142.95 185.36,143.03 185.75,143.12 186.08,143.22 186.35,143.31 186.56,143.41 186.69,143.52 186.76,143.62 189.40,238.24 189.39,238.40 189.32,238.56 189.18,238.72 188.97,238.88 188.70,239.03 188.36,239.18 187.96,239.32 187.50,239.46 186.99,239.59 186.42,239.70 185.81,239.81 185.15,239.91 184.46,239.99 183.74,240.07 182.99,240.13 182.22,240.17 181.43,240.20 180.64,240.22 179.84,240.23 179.05,240.22 178.26,240.19 177.50,240.16 176.75,240.10 176.04,240.04 175.35,239.96 174.71,239.87 174.11,239.77 173.55,239.66 173.05,239.54 172.61,239.41 172.22,239.27 171.90,239.12 171.64,238.97 171.45,238.82 171.32,238.66 171.27,238.50" fill="url(#gb)"/>
<polygon points="185.69,144.24 186.04,144.14 186.32,144.04 186.53,143.94 186.68,143.83 186.75,143.73 186.76,143.62 186.69,143.52 186.56,143.41 186.35,143.31 186.08,143.22 185.75,143.12 185.36,143.03 184.90,142.95 184.39,142.87 183.83,142.80 183.22,142.73 182.58,142.67 181.89,142.62 181.17,142.58 180.42,142.55 179.65,142.52 178.87,142.51 178.08,142.50 177.28,142.50 176.49,142.51 175.70,142.53 174.92,142.56 174.17,142.60 173.44,142.65 172.75,142.70 172.08,142.76 171.46,142.83 170.89,142.91 170.36,142.99 169.89,143.08 169.48,143.17 169.13,143.27 168.84,143.37 168.62,143.47 168.46,143.57 168.38,143.68 168.36,143.78 168.41,143.89 168.54,143.99 168.73,144.09 168.99,144.19 169.32,144.29 169.71,144.38 170.16,144.47 170.66,144.55 171.23,144.62 171.83,144.69 172.49,144.75 173.18,144.80 173.91,144.84 174.66,144.87 175.44,144.90 176.24,144.92 177.04,144.92 177.85,144.92 178.65,144.91 179.45,144.89 180.23,144.86 181.00,144.82 181.73,144.77 182.44,144.72 183.10,144.65 183.72,144.58 184.30,144.51 184.82,144.42 185.29,144.33" fill="rgba(0,20,60,0.16)"/>
<polygon points="208.37,143.60 208.43,143.49 208.57,143.38 208.77,143.28 209.04,143.18 209.37,143.08 209.77,142.99 210.23,142.90 210.74,142.82 211.31,142.74 211.92,142.67 212.58,142.61 213.27,142.55 214.00,142.50 214.75,142.46 215.53,142.44 216.32,142.41 217.12,142.40 217.93,142.40 218.74,142.41 219.53,142.42 220.32,142.45 221.08,142.48 221.82,142.52 222.52,142.57 223.20,142.63 223.83,142.70 224.41,142.77 224.94,142.85 225.42,142.94 225.84,143.03 226.20,143.12 226.50,143.22 226.72,143.33 226.88,143.43 226.97,143.54 226.99,143.64 229.14,242.41 229.09,242.57 228.98,242.74 228.79,242.90 228.53,243.06 228.21,243.21 227.83,243.36 227.38,243.50 226.88,243.63 226.33,243.75 225.72,243.86 225.07,243.96 224.38,244.05 223.66,244.13 222.91,244.19 222.14,244.24 221.35,244.27 220.54,244.29 219.74,244.29 218.93,244.28 218.14,244.26 217.36,244.22 216.59,244.17 215.86,244.10 215.16,244.02 214.49,243.93 213.87,243.82 213.29,243.71 212.76,243.58 212.29,243.45 211.88,243.31 211.54,243.16 211.25,243.00 211.04,242.84 210.89,242.68 210.81,242.51 210.80,242.35" fill="url(#gb)"/>
<polygon points="226.04,144.16 226.37,144.06 226.63,143.96 226.82,143.86 226.94,143.75 226.99,143.64 226.97,143.54 226.88,143.43 226.72,143.33 226.50,143.22 226.20,143.12 225.84,143.03 225.42,142.94 224.94,142.85 224.41,142.77 223.83,142.70 223.20,142.63 222.52,142.57 221.82,142.52 221.08,142.48 220.32,142.45 219.53,142.42 218.74,142.41 217.93,142.40 217.12,142.40 216.32,142.41 215.53,142.44 214.75,142.46 214.00,142.50 213.27,142.55 212.58,142.61 211.92,142.67 211.31,142.74 210.74,142.82 210.23,142.90 209.77,142.99 209.37,143.08 209.04,143.18 208.77,143.28 208.57,143.38 208.43,143.49 208.37,143.60 208.38,143.70 208.46,143.81 208.60,143.92 208.82,144.02 209.11,144.12 209.46,144.22 209.88,144.31 210.35,144.40 210.88,144.48 211.47,144.55 212.10,144.62 212.78,144.68 213.49,144.73 214.24,144.77 215.01,144.81 215.80,144.84 216.61,144.85 217.43,144.86 218.25,144.86 219.06,144.84 219.86,144.82 220.65,144.79 221.41,144.75 222.15,144.70 222.85,144.65 223.51,144.58 224.12,144.51 224.68,144.43 225.20,144.35 225.65,144.26" fill="rgba(0,20,60,0.16)"/>
<polygon points="249.72,149.25 249.76,149.14 249.87,149.03 250.05,148.92 250.30,148.82 250.62,148.71 251.00,148.62 251.44,148.52 251.94,148.44 252.49,148.36 253.10,148.28 253.75,148.22 254.44,148.16 255.16,148.11 255.92,148.07 256.69,148.04 257.49,148.02 258.30,148.00 259.12,148.00 259.93,148.01 260.74,148.02 261.54,148.05 262.32,148.08 263.08,148.13 263.81,148.18 264.50,148.24 265.16,148.31 265.76,148.39 266.32,148.47 266.83,148.56 267.27,148.66 267.66,148.76 267.98,148.86 268.24,148.97 268.42,149.08 268.54,149.19 268.58,149.30 270.09,246.54 270.06,246.71 269.97,246.88 269.80,247.05 269.56,247.21 269.26,247.37 268.89,247.52 268.46,247.66 267.98,247.80 267.43,247.92 266.84,248.04 266.19,248.14 265.51,248.23 264.79,248.31 264.04,248.37 263.26,248.42 262.46,248.46 261.66,248.48 260.84,248.48 260.02,248.47 259.21,248.45 258.42,248.41 257.64,248.35 256.88,248.28 256.16,248.20 255.47,248.11 254.82,248.00 254.22,247.88 253.67,247.75 253.18,247.61 252.74,247.47 252.37,247.31 252.06,247.15 251.81,246.99 251.64,246.82 251.54,246.65 251.50,246.48" fill="url(#gb)"/>
<polygon points="267.74,149.85 268.05,149.74 268.29,149.63 268.46,149.53 268.56,149.41 268.58,149.30 268.54,149.19 268.42,149.08 268.24,148.97 267.98,148.86 267.66,148.76 267.27,148.66 266.83,148.56 266.32,148.47 265.76,148.39 265.16,148.31 264.50,148.24 263.81,148.18 263.08,148.13 262.32,148.08 261.54,148.05 260.74,148.02 259.93,148.01 259.12,148.00 258.30,148.00 257.49,148.02 256.69,148.04 255.92,148.07 255.16,148.11 254.44,148.16 253.75,148.22 253.10,148.28 252.49,148.36 251.94,148.44 251.44,148.52 251.00,148.62 250.62,148.71 250.30,148.82 250.05,148.92 249.87,149.03 249.76,149.14 249.72,149.25 249.75,149.37 249.86,149.48 250.03,149.59 250.28,149.70 250.59,149.80 250.97,149.90 251.41,150.00 251.92,150.09 252.47,150.18 253.08,150.25 253.74,150.33 254.44,150.39 255.17,150.44 255.94,150.49 256.73,150.52 257.54,150.55 258.36,150.57 259.19,150.57 260.01,150.57 260.83,150.56 261.64,150.54 262.43,150.50 263.20,150.46 263.93,150.41 264.62,150.35 265.27,150.29 265.88,150.21 266.43,150.13 266.93,150.04 267.37,149.94" fill="rgba(0,20,60,0.16)"/>
<polygon points="292.24,149.17 292.25,149.06 292.34,148.95 292.50,148.84 292.73,148.73 293.02,148.63 293.39,148.53 293.81,148.43 294.30,148.34 294.84,148.26 295.44,148.19 296.08,148.12 296.76,148.06 297.49,148.01 298.24,147.97 299.02,147.94 299.83,147.92 300.64,147.90 301.47,147.90 302.30,147.91 303.12,147.92 303.94,147.95 304.74,147.99 305.52,148.03 306.27,148.08 306.98,148.15 307.66,148.22 308.29,148.29 308.88,148.38 309.41,148.47 309.89,148.57 310.30,148.67 310.65,148.77 310.94,148.88 311.15,148.99 311.30,149.11 311.37,149.22 312.28,250.79 312.28,250.97 312.20,251.14 312.06,251.32 311.85,251.48 311.56,251.65 311.21,251.80 310.80,251.95 310.33,252.09 309.79,252.22 309.21,252.34 308.57,252.44 307.89,252.54 307.18,252.62 306.42,252.68 305.64,252.74 304.84,252.77 304.03,252.79 303.20,252.80 302.37,252.79 301.55,252.76 300.74,252.72 299.94,252.67 299.17,252.59 298.42,252.51 297.71,252.41 297.04,252.30 296.41,252.18 295.83,252.05 295.31,251.90 294.85,251.75 294.45,251.60 294.11,251.43 293.84,251.26 293.64,251.09 293.51,250.91 293.45,250.74" fill="url(#gb)"/>
<polygon points="310.64,149.77 310.93,149.67 311.15,149.56 311.29,149.45 311.37,149.33 311.37,149.22 311.30,149.11 311.15,148.99 310.94,148.88 310.65,148.77 310.30,148.67 309.89,148.57 309.41,148.47 308.88,148.38 308.29,148.29 307.66,148.22 306.98,148.15 306.27,148.08 305.52,148.03 304.74,147.99 303.94,147.95 303.12,147.92 302.30,147.91 301.47,147.90 300.64,147.90 299.83,147.92 299.02,147.94 298.24,147.97 297.49,148.01 296.76,148.06 296.08,148.12 295.44,148.19 294.84,148.26 294.30,148.34 293.81,148.43 293.39,148.53 293.02,148.63 292.73,148.73 292.50,148.84 292.34,148.95 292.25,149.06 292.24,149.17 292.30,149.29 292.43,149.40 292.64,149.51 292.91,149.62 293.25,149.73 293.66,149.83 294.13,149.93 294.66,150.02 295.25,150.11 295.88,150.19 296.56,150.26 297.29,150.32 298.04,150.38 298.83,150.43 299.64,150.46 300.47,150.49 301.30,150.51 302.14,150.51 302.98,150.51 303.81,150.50 304.62,150.47 305.42,150.44 306.18,150.40 306.91,150.35 307.60,150.29 308.25,150.22 308.84,150.14 309.38,150.06 309.87,149.97 310.29,149.87" fill="rgba(0,20,60,0.16)"/>
<polygon points="336.07,139.52 336.13,139.41 336.27,139.30 336.47,139.20 336.75,139.10 337.09,139.00 337.50,138.91 337.97,138.83 338.50,138.75 339.09,138.68 339.73,138.61 340.41,138.56 341.13,138.51 341.89,138.47 342.67,138.44 343.48,138.42 344.31,138.40 345.15,138.40 345.99,138.41 346.83,138.42 347.66,138.45 348.48,138.48 349.28,138.53 350.06,138.58 350.80,138.64 351.51,138.70 352.17,138.78 352.78,138.86 353.35,138.95 353.85,139.04 354.30,139.14 354.68,139.24 354.99,139.34 355.24,139.45 355.41,139.56 355.51,139.67 355.54,139.78 355.80,255.36 355.75,255.54 355.63,255.72 355.44,255.89 355.18,256.06 354.85,256.22 354.45,256.37 353.99,256.52 353.47,256.65 352.90,256.77 352.27,256.88 351.60,256.98 350.88,257.06 350.13,257.13 349.35,257.18 348.54,257.22 347.72,257.24 346.88,257.25 346.04,257.24 345.20,257.21 344.37,257.17 343.56,257.11 342.76,257.04 341.99,256.95 341.26,256.85 340.56,256.74 339.91,256.61 339.30,256.48 338.75,256.33 338.26,256.17 337.83,256.01 337.46,255.84 337.16,255.67 336.93,255.49 336.77,255.31 336.69,255.13 336.67,254.95" fill="url(#gb)"/>
<polygon points="354.91,140.20 355.18,140.10 355.37,140.00 355.49,139.89 355.54,139.78 355.51,139.67 355.41,139.56 355.24,139.45 354.99,139.34 354.68,139.24 354.30,139.14 353.85,139.04 353.35,138.95 352.78,138.86 352.17,138.78 351.51,138.70 350.80,138.64 350.06,138.58 349.28,138.53 348.48,138.48 347.66,138.45 346.83,138.42 345.99,138.41 345.15,138.40 344.31,138.40 343.48,138.42 342.67,138.44 341.89,138.47 341.13,138.51 340.41,138.56 339.73,138.61 339.09,138.68 338.50,138.75 337.97,138.83 337.50,138.91 337.09,139.00 336.75,139.10 336.47,139.20 336.27,139.30 336.13,139.41 336.07,139.52 336.09,139.63 336.18,139.74 336.34,139.85 336.57,139.95 336.88,140.06 337.25,140.16 337.69,140.26 338.19,140.36 338.75,140.44 339.37,140.53 340.03,140.60 340.74,140.67 341.49,140.73 342.27,140.79 343.08,140.83 343.91,140.87 344.76,140.89 345.61,140.91 346.46,140.92 347.31,140.91 348.15,140.90 348.97,140.88 349.77,140.85 350.53,140.81 351.26,140.76 351.95,140.70 352.59,140.63 353.17,140.56 353.70,140.48 354.17,140.39 354.57,140.30" fill="rgba(0,20,60,0.16)"/>
<polygon points="381.24,259.47 381.43,148.40 381.46,148.28 381.57,148.17 381.75,148.06 382.00,147.95 382.33,147.85 382.72,147.75 383.17,147.66 383.69,147.57 384.26,147.50 384.89,147.43 385.56,147.37 386.28,147.32 387.04,147.27 387.82,147.24 388.64,147.22 389.47,147.20 390.32,147.20 391.17,147.21 392.03,147.22 392.88,147.25 393.72,147.29 394.54,147.33 395.34,147.39 396.11,147.45 396.84,147.52 397.53,147.60 398.17,147.69 398.76,147.78 399.30,147.88 399.78,147.99 400.19,148.09 400.54,148.21 400.82,148.32 401.02,148.44 401.15,148.55 401.21,148.67 400.68,259.89 400.66,260.08 400.57,260.26 400.40,260.44 400.16,260.61 399.85,260.78 399.48,260.94 399.03,261.08 398.53,261.22 397.96,261.35 397.35,261.46 396.68,261.56 395.97,261.65 395.22,261.72 394.43,261.77 393.62,261.81 392.79,261.83 391.94,261.84 391.09,261.83 390.24,261.80 389.39,261.76 388.55,261.70 387.74,261.63 386.94,261.54 386.18,261.43 385.46,261.32 384.78,261.19 384.15,261.05 383.57,260.90 383.04,260.73 382.58,260.57 382.18,260.39 381.85,260.21 381.59,260.03 381.40,259.84 381.28,259.66" fill="url(#gb)"/>
<polygon points="400.68,149.12 400.93,149.01 401.09,148.90 401.19,148.79 401.21,148.67 401.15,148.55 401.02,148.44 400.82,148.32 400.54,148.21 400.19,148.09 399.78,147.99 399.30,147.88 398.76,147.78 398.17,147.69 397.53,147.60 396.84,147.52 396.11,147.45 395.34,147.39 394.54,147.33 393.72,147.29 392.88,147.25 392.03,147.22 391.17,147.21 390.32,147.20 389.47,147.20 388.64,147.22 387.82,147.24 387.04,147.27 386.28,147.32 385.56,147.37 384.89,147.43 384.26,147.50 383.69,147.57 383.17,147.66 382.72,147.75 382.33,147.85 382.00,147.95 381.75,148.06 381.57,148.17 381.46,148.28 381.43,148.40 381.48,148.51 381.59,148.63 381.79,148.75 382.05,148.86 382.39,148.97 382.79,149.08 383.27,149.19 383.80,149.29 384.39,149.39 385.03,149.47 385.73,149.55 386.46,149.63 387.24,149.69 388.04,149.75 388.87,149.80 389.72,149.83 390.59,149.86 391.46,149.88 392.32,149.89 393.18,149.88 394.03,149.87 394.85,149.85 395.65,149.81 396.41,149.77 397.14,149.71 397.82,149.65 398.45,149.58 399.02,149.50 399.53,149.42 399.98,149.32 400.37,149.23" fill="rgba(0,20,60,0.16)"/>
<polygon points="427.23,264.13 428.37,135.83 428.37,135.72 428.45,135.61 428.60,135.51 428.83,135.41 429.13,135.31 429.50,135.22 429.94,135.13 430.45,135.05 431.01,134.98 431.63,134.92 432.30,134.86 433.01,134.81 433.77,134.77 434.56,134.74 435.38,134.72 436.22,134.70 437.08,134.70 437.95,134.71 438.82,134.72 439.70,134.75 440.56,134.78 441.40,134.83 442.23,134.88 443.02,134.94 443.79,135.01 444.51,135.08 445.19,135.16 445.81,135.25 446.38,135.34 446.90,135.44 447.35,135.55 447.73,135.65 448.04,135.76 448.28,135.87 448.44,135.98 448.53,136.09 448.54,136.20 447.01,264.76 446.94,264.95 446.80,265.13 446.59,265.31 446.30,265.48 445.94,265.64 445.52,265.80 445.03,265.94 444.48,266.07 443.87,266.19 443.21,266.29 442.50,266.38 441.75,266.45 440.96,266.51 440.15,266.55 439.31,266.57 438.45,266.58 437.59,266.57 436.72,266.54 435.85,266.50 435.00,266.44 434.16,266.36 433.34,266.27 432.55,266.16 431.80,266.04 431.09,265.91 430.42,265.76 429.81,265.61 429.26,265.44 428.76,265.27 428.33,265.09 427.97,264.90 427.67,264.71 427.45,264.52 427.31,264.33" fill="url(#gb)"/>
<polygon points="448.12,136.52 448.33,136.42 448.48,136.31 448.54,136.20 448.53,136.09 448.44,135.98 448.28,135.87 448.04,135.76 447.73,135.65 447.35,135.55 446.90,135.44 446.38,135.34 445.81,135.25 445.19,135.16 444.51,135.08 443.79,135.01 443.02,134.94 442.23,134.88 441.40,134.83 440.56,134.78 439.70,134.75 438.82,134.72 437.95,134.71 437.08,134.70 436.22,134.70 435.38,134.72 434.56,134.74 433.77,134.77 433.01,134.81 432.30,134.86 431.63,134.92 431.01,134.98 430.45,135.05 429.94,135.13 429.50,135.22 429.13,135.31 428.83,135.41 428.60,135.51 428.45,135.61 428.37,135.72 428.37,135.83 428.44,135.94 428.59,136.05 428.82,136.16 429.12,136.27 429.49,136.38 429.93,136.48 430.44,136.58 431.01,136.68 431.63,136.77 432.31,136.85 433.03,136.93 433.80,137.00 434.61,137.06 435.44,137.11 436.30,137.16 437.17,137.19 438.05,137.22 438.94,137.24 439.82,137.24 440.70,137.24 441.55,137.23 442.38,137.20 443.19,137.17 443.95,137.13 444.67,137.08 445.34,137.02 445.96,136.95 446.53,136.88 447.03,136.80 447.46,136.71 447.82,136.62" fill="rgba(0,20,60,0.16)"/>
<polygon points="474.69,268.75 476.75,141.58 476.80,141.46 476.92,141.35 477.12,141.25 477.40,141.14 477.75,141.05 478.17,140.96 478.66,140.87 479.20,140.80 479.81,140.73 480.47,140.67 481.18,140.62 481.94,140.57 482.73,140.54 483.55,140.52 484.40,140.50 485.27,140.50 486.16,140.51 487.05,140.52 487.94,140.55 488.82,140.59 489.69,140.63 490.54,140.69 491.37,140.75 492.16,140.82 492.91,140.90 493.62,140.99 494.28,141.08 494.89,141.18 495.44,141.28 495.92,141.39 496.34,141.50 496.69,141.61 496.96,141.73 497.16,141.84 497.28,141.96 497.33,142.08 494.86,269.59 494.82,269.78 494.71,269.97 494.52,270.16 494.26,270.34 493.92,270.51 493.52,270.66 493.04,270.81 492.50,270.95 491.91,271.07 491.25,271.17 490.55,271.27 489.80,271.34 489.02,271.40 488.20,271.44 487.35,271.47 486.48,271.47 485.60,271.46 484.72,271.44 483.83,271.39 482.95,271.33 482.09,271.25 481.25,271.15 480.43,271.04 479.65,270.92 478.91,270.78 478.21,270.63 477.57,270.47 476.98,270.30 476.45,270.12 475.98,269.94 475.58,269.74 475.25,269.55 475.00,269.35 474.82,269.15 474.71,268.95" fill="url(#gb)"/>
<polygon points="496.99,142.41 497.18,142.30 497.29,142.19 497.33,142.08 497.28,141.96 497.16,141.84 496.96,141.73 496.69,141.61 496.34,141.50 495.92,141.39 495.44,141.28 494.89,141.18 494.28,141.08 493.62,140.99 492.91,140.90 492.16,140.82 491.37,140.75 490.54,140.69 489.69,140.63 488.82,140.59 487.94,140.55 487.05,140.52 486.16,140.51 485.27,140.50 484.40,140.50 483.55,140.52 482.73,140.54 481.94,140.57 481.18,140.62 480.47,140.67 479.81,140.73 479.20,140.80 478.66,140.87 478.17,140.96 477.75,141.05 477.40,141.14 477.12,141.25 476.92,141.35 476.80,141.46 476.75,141.58 476.78,141.69 476.89,141.81 477.07,141.92 477.33,142.04 477.67,142.16 478.08,142.27 478.55,142.38 479.09,142.48 479.70,142.58 480.36,142.68 481.07,142.76 481.83,142.84 482.62,142.92 483.46,142.98 484.32,143.04 485.20,143.09 486.09,143.12 487.00,143.15 487.90,143.17 488.80,143.17 489.68,143.17 490.55,143.16 491.38,143.13 492.18,143.10 492.95,143.05 493.66,143.00 494.33,142.94 494.94,142.87 495.48,142.79 495.97,142.70 496.38,142.61 496.72,142.51" fill="rgba(0,20,60,0.16)"/>
<polygon points="523.70,273.72 526.79,144.21 526.80,144.10 526.90,143.98 527.07,143.87 527.32,143.77 527.65,143.67 528.05,143.57 528.51,143.49 529.05,143.41 529.64,143.34 530.30,143.27 531.00,143.22 531.75,143.18 532.55,143.14 533.38,143.12 534.23,143.10 535.12,143.10 536.01,143.11 536.92,143.12 537.83,143.15 538.74,143.19 539.63,143.23 540.51,143.29 541.36,143.36 542.19,143.43 542.98,143.51 543.72,143.60 544.42,143.69 545.06,143.80 545.65,143.90 546.17,144.01 546.63,144.13 547.01,144.25 547.33,144.37 547.56,144.49 547.72,144.61 547.80,144.73 547.80,144.84 544.28,274.78 544.20,274.98 544.04,275.17 543.80,275.35 543.49,275.53 543.10,275.69 542.65,275.84 542.12,275.98 541.54,276.11 540.89,276.22 540.19,276.31 539.45,276.39 538.66,276.45 537.84,276.50 536.98,276.52 536.10,276.53 535.21,276.52 534.31,276.49 533.40,276.44 532.50,276.38 531.61,276.30 530.74,276.20 529.90,276.09 529.09,275.96 528.31,275.82 527.58,275.66 526.90,275.50 526.27,275.32 525.71,275.14 525.20,274.94 524.77,274.75 524.40,274.54 524.11,274.34 523.90,274.13 523.76,273.93" fill="url(#gb)"/>
<polygon points="547.55,145.07 547.71,144.96 547.80,144.84 547.80,144.73 547.72,144.61 547.56,144.49 547.33,144.37 547.01,144.25 546.63,144.13 546.17,144.01 545.65,143.90 545.06,143.80 544.42,143.69 543.72,143.60 542.98,143.51 542.19,143.43 541.36,143.36 540.51,143.29 539.63,143.23 538.74,143.19 537.83,143.15 536.92,143.12 536.01,143.11 535.12,143.10 534.23,143.10 533.38,143.12 532.55,143.14 531.75,143.18 531.00,143.22 530.30,143.27 529.64,143.34 529.05,143.41 528.51,143.49 528.05,143.57 527.65,143.67 527.32,143.77 527.07,143.87 526.90,143.98 526.80,144.10 526.79,144.21 526.85,144.33 526.99,144.45 527.22,144.57 527.51,144.69 527.89,144.81 528.33,144.93 528.85,145.04 529.43,145.15 530.07,145.25 530.77,145.35 531.51,145.44 532.31,145.52 533.14,145.60 534.00,145.66 534.89,145.72 535.80,145.77 536.72,145.81 537.64,145.83 538.56,145.85 539.47,145.86 540.37,145.86 541.24,145.84 542.08,145.82 542.88,145.78 543.64,145.73 544.35,145.68 545.01,145.62 545.61,145.54 546.14,145.46 546.60,145.37 547.00,145.28 547.31,145.18" fill="rgba(0,20,60,0.16)"/>
<polygon points="574.34,278.65 578.51,147.13 578.57,147.01 578.71,146.90 578.94,146.79 579.24,146.69 579.61,146.59 580.06,146.50 580.58,146.42 581.16,146.35 581.81,146.28 582.51,146.23 583.26,146.18 584.05,146.14 584.88,146.12 585.75,146.10 586.64,146.10 587.55,146.11 588.48,146.12 589.41,146.15 590.34,146.19 591.26,146.24 592.17,146.30 593.05,146.36 593.91,146.44 594.74,146.52 595.52,146.62 596.25,146.71 596.94,146.82 597.56,146.93 598.13,147.04 598.62,147.16 599.05,147.28 599.40,147.41 599.68,147.53 599.87,147.66 599.99,147.78 600.02,147.90 595.40,279.95 595.35,280.15 595.22,280.35 595.01,280.54 594.72,280.72 594.36,280.89 593.92,281.05 593.41,281.19 592.84,281.32 592.21,281.43 591.51,281.53 590.77,281.61 589.98,281.68 589.15,281.72 588.29,281.75 587.40,281.76 586.49,281.75 585.57,281.72 584.65,281.67 583.72,281.60 582.81,281.52 581.91,281.42 581.03,281.30 580.19,281.17 579.38,281.02 578.61,280.86 577.89,280.69 577.23,280.51 576.62,280.32 576.08,280.12 575.61,279.92 575.20,279.71 574.87,279.49 574.62,279.28 574.45,279.07 574.35,278.86" fill="url(#gb)"/>
<polygon points="599.84,148.13 599.97,148.02 600.02,147.90 599.99,147.78 599.87,147.66 599.68,147.53 599.40,147.41 599.05,147.28 598.62,147.16 598.13,147.04 597.56,146.93 596.94,146.82 596.25,146.71 595.52,146.62 594.74,146.52 593.91,146.44 593.05,146.36 592.17,146.30 591.26,146.24 590.34,146.19 589.41,146.15 588.48,146.12 587.55,146.11 586.64,146.10 585.75,146.10 584.88,146.12 584.05,146.14 583.26,146.18 582.51,146.23 581.81,146.28 581.16,146.35 580.58,146.42 580.06,146.50 579.61,146.59 579.24,146.69 578.94,146.79 578.71,146.90 578.57,147.01 578.51,147.13 578.53,147.25 578.63,147.38 578.81,147.50 579.07,147.62 579.41,147.75 579.82,147.87 580.31,147.99 580.87,148.11 581.49,148.22 582.17,148.32 582.90,148.43 583.69,148.52 584.52,148.60 585.38,148.68 586.28,148.75 587.20,148.81 588.13,148.86 589.07,148.90 590.02,148.93 590.96,148.95 591.89,148.95 592.79,148.95 593.67,148.93 594.52,148.91 595.32,148.87 596.08,148.82 596.78,148.77 597.43,148.70 598.01,148.63 598.53,148.54 598.97,148.45 599.34,148.35 599.63,148.25" fill="rgba(0,20,60,0.16)"/>
<text x="62.00" y="237.80" font-size="10.2" text-anchor="end" fill="#222" stroke="#222" stroke-width="0.2" textLength="13.5" lengthAdjust="spacingAndGlyphs">0%</text>
<text x="61.10" y="210.30" font-size="10.2" text-anchor="end" fill="#222" stroke="#222" stroke-width="0.2" textLength="19.3" lengthAdjust="spacingAndGlyphs">10%</text>
<text x="59.70" y="182.90" font-size="10.2" text-anchor="end" fill="#222" stroke="#222" stroke-width="0.2" textLength="19.3" lengthAdjust="spacingAndGlyphs">20%</text>
<text x="58.50" y="155.40" font-size="10.2" text-anchor="end" fill="#222" stroke="#222" stroke-width="0.2" textLength="19.3" lengthAdjust="spacingAndGlyphs">30%</text>
<text x="57.10" y="127.70" font-size="10.2" text-anchor="end" fill="#222" stroke="#222" stroke-width="0.2" textLength="19.3" lengthAdjust="spacingAndGlyphs">40%</text>
<text x="56.00" y="99.80" font-size="10.2" text-anchor="end" fill="#222" stroke="#222" stroke-width="0.2" textLength="19.3" lengthAdjust="spacingAndGlyphs">50%</text>
<text x="54.90" y="71.50" font-size="10.2" text-anchor="end" fill="#222" stroke="#222" stroke-width="0.2" textLength="19.3" lengthAdjust="spacingAndGlyphs">60%</text>
<text transform="translate(94.03,250.64) rotate(-45)" font-size="10.6" text-anchor="end" fill="#222" stroke="#222" stroke-width="0.25" textLength="33.1" lengthAdjust="spacingAndGlyphs">Janvier</text>
<text transform="translate(131.88,254.55) rotate(-45)" font-size="10.6" text-anchor="end" fill="#222" stroke="#222" stroke-width="0.25" textLength="32.9" lengthAdjust="spacingAndGlyphs">Février</text>
<text transform="translate(170.85,258.58) rotate(-45)" font-size="10.6" text-anchor="end" fill="#222" stroke="#222" stroke-width="0.25" textLength="24.1" lengthAdjust="spacingAndGlyphs">Mars</text>
<text transform="translate(211.00,262.73) rotate(-45)" font-size="10.6" text-anchor="end" fill="#222" stroke="#222" stroke-width="0.25" textLength="21.3" lengthAdjust="spacingAndGlyphs">Avril</text>
<text transform="translate(252.37,267.01) rotate(-45)" font-size="10.6" text-anchor="end" fill="#222" stroke="#222" stroke-width="0.25" textLength="18.1" lengthAdjust="spacingAndGlyphs">Mai</text>
<text transform="translate(295.02,271.42) rotate(-45)" font-size="10.6" text-anchor="end" fill="#222" stroke="#222" stroke-width="0.25" textLength="18.5" lengthAdjust="spacingAndGlyphs">Juin</text>
<text transform="translate(339.01,275.97) rotate(-45)" font-size="10.6" text-anchor="end" fill="#222" stroke="#222" stroke-width="0.25" textLength="27.4" lengthAdjust="spacingAndGlyphs">Juillet</text>
<text transform="translate(384.41,280.66) rotate(-45)" font-size="10.6" text-anchor="end" fill="#222" stroke="#222" stroke-width="0.25" textLength="22.8" lengthAdjust="spacingAndGlyphs">Août</text>
<text transform="translate(431.28,285.51) rotate(-45)" font-size="10.6" text-anchor="end" fill="#222" stroke="#222" stroke-width="0.25" textLength="52.0" lengthAdjust="spacingAndGlyphs">Septembre</text>
<text transform="translate(479.71,290.52) rotate(-45)" font-size="10.6" text-anchor="end" fill="#222" stroke="#222" stroke-width="0.25" textLength="38.5" lengthAdjust="spacingAndGlyphs">Octobre</text>
<text transform="translate(529.75,295.69) rotate(-45)" font-size="10.6" text-anchor="end" fill="#222" stroke="#222" stroke-width="0.25" textLength="49.8" lengthAdjust="spacingAndGlyphs">Novembre</text>
<text transform="translate(581.51,301.04) rotate(-45)" font-size="10.6" text-anchor="end" fill="#222" stroke="#222" stroke-width="0.25" textLength="48.8" lengthAdjust="spacingAndGlyphs">Décembre</text>
<text x="338.8" y="29.4" font-size="10" font-weight="bold" text-anchor="middle" fill="#111" textLength="301.5" lengthAdjust="spacingAndGlyphs">Tourisme: Quand faut-il envoyer ses campagnes e-mailing ?</text>
<text x="323.9" y="44.1" font-size="10" font-weight="bold" text-anchor="middle" fill="#111" textLength="153" lengthAdjust="spacingAndGlyphs">Les meilleurs mois de l'années</text>
<rect x="74.6" y="332.6" width="6.4" height="6.2" fill="#0d6fc6"/>
<text x="84.5" y="339.1" font-size="10.3" fill="#222" stroke="#222" stroke-width="0.2" textLength="158.5" lengthAdjust="spacingAndGlyphs">Taux d'ouverture moyen par mois</text>
<rect x="74.6" y="353.6" width="6.4" height="6.2" fill="#ff0000"/>
<text x="84.5" y="360.1" font-size="10.3" fill="#222" stroke="#222" stroke-width="0.2" textLength="132.5" lengthAdjust="spacingAndGlyphs">Taux de clic moyen par mois</text>
<text x="31.4" y="388.2" font-size="10" fill="#444" textLength="606" lengthAdjust="spacingAndGlyphs">Source:  www.pure360.fr/ressources-emailing/livres-blancs-et-infographies/Tourisme-Quand-faut-il-envoyer-ses-campagnes-emailing</text>
</svg></body></html>
